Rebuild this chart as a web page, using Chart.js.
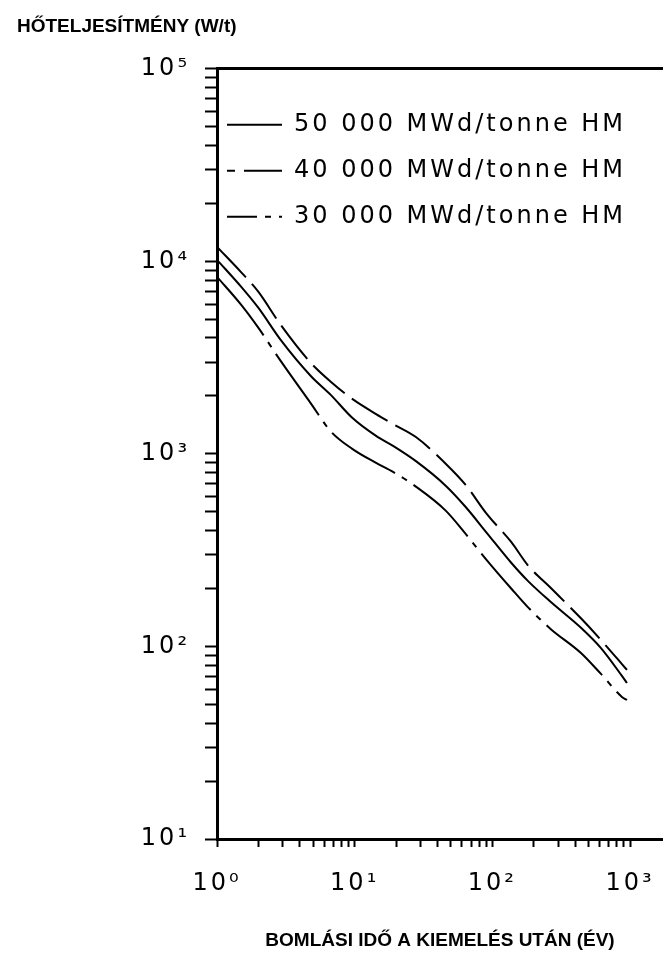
<!DOCTYPE html>
<html>
<head>
<meta charset="utf-8">
<title>Hőteljesítmény</title>
<script src="https://cdn.jsdelivr.net/npm/chart.js@4.4.1/dist/chart.umd.min.js"></script>
<style>
  html, body { margin: 0; padding: 0; background: #fff; }
  #wrap { width: 663px; height: 954px; }
</style>
</head>
<body>
<div id="wrap"><canvas id="myChart"></canvas></div>
<script>
// bomlási idő (év)
const years = [1, 1.5, 2, 2.9, 4.8, 6.7, 9.6, 14.3, 19, 28, 46, 64, 91, 137, 181, 266, 440, 615, 873, 950];
// hőteljesítmény (W/t)
const heat50 = [10180, 7370, 5730, 3910, 2540, 2025, 1540, 1240, 1100, 914, 682, 530, 389, 272, 219, 170, 125, 98, 70.3, 64.6];
const heat40 = [11890, 8770, 6940, 4680, 2970, 2370, 1930, 1610, 1430, 1220, 887, 690, 488, 349, 264, 201, 140, 108, 81, 75.5];
const heat30 = [8310, 5940, 4510, 3040, 1830, 1310, 1062, 898, 806, 674, 506, 384, 281, 200, 160, 123, 92.5, 72, 54.7, 52.7];
const seriesLabels = ['50 000 MWd/tonne HM', '40 000 MWd/tonne HM', '30 000 MWd/tonne HM'];

const xPowers = [1, 10, 100, 1000];
const xTickLabels = ['10⁰', '10¹', '10²', '10³'];
const yPowers = [10, 100, 1000, 10000, 100000];
const yTickLabels = ['10¹', '10²', '10³', '10⁴', '10⁵'];

const yTitle = 'HŐTELJESÍTMÉNY (W/t)';
const xTitle = 'BOMLÁSI IDŐ A KIEMELÉS UTÁN (ÉV)';

function powerLabel(value, powers, labels) {
  const i = powers.findIndex(p => Math.abs(value / p - 1) < 1e-9);
  return i >= 0 ? labels[i] : '';
}

// only 1..9 x 10^n get a tick mark
function markColor(ctx) {
  if (!ctx.tick) return '#000';
  const v = ctx.tick.value;
  const m = v / Math.pow(10, Math.floor(Math.log10(v) + 1e-9));
  return Math.abs(m - Math.round(m)) < 1e-6 ? '#000' : 'rgba(0,0,0,0)';
}

function toPoints(ys) {
  return years.map((t, i) => ({ x: t, y: ys[i] }));
}

// legend inside the frame + wider letter spacing for legend and tick labels
const tweaks = {
  id: 'tweaks',
  afterLayout(chart) {
    if (chart.legend) {
      chart.legend.top = chart.chartArea.top;
      chart.legend.left = chart.chartArea.left;
    }
    const targets = [[chart.legend, 'draw'], [chart.scales.x, 'drawLabels'], [chart.scales.y, 'drawLabels']];
    targets.forEach(([el, key]) => {
      if (!el || el[key]._spaced) return;
      const orig = el[key];
      const wrapped = function (...args) {
        this.ctx.save();
        this.ctx.letterSpacing = '3px';
        orig.apply(this, args);
        this.ctx.restore();
      };
      wrapped._spaced = true;
      el[key] = wrapped;
    });
  }
};

const font = 'DejaVu Sans, sans-serif';
const boldFont = { family: 'Liberation Sans, Arial, sans-serif', size: 19, weight: 'bold' };

const data = {
  datasets: [
    { label: seriesLabels[0], data: toPoints(heat50), borderDash: [], legendOffset: 0 },
    { label: seriesLabels[1], data: toPoints(heat40), borderDash: [42, 9], legendOffset: 34 },
    { label: seriesLabels[2], data: toPoints(heat30), borderDash: [75, 8, 6, 8], legendOffset: 45 }
  ].map(ds => Object.assign(ds, {
    borderColor: '#000',
    borderWidth: 2,
    pointRadius: 0,
    pointStyle: 'line',
    fill: false,
    cubicInterpolationMode: 'monotone'
  }))
};

const config = {
  type: 'line',
  data,
  plugins: [tweaks],
  options: {
    responsive: true,
    maintainAspectRatio: false,
    animation: false,
    devicePixelRatio: 1,
    layout: { padding: { left: 17, right: 0, top: 0, bottom: 0 } },
    plugins: {
      tooltip: { enabled: false },
      title: {
        display: true,
        text: yTitle,
        align: 'start',
        color: '#000',
        font: boldFont,
        padding: { top: 15, bottom: 0 }
      },
      legend: {
        position: 'chartArea',
        align: 'start',
        title: { display: true, text: ' ', font: { size: 10, lineHeight: 1 }, padding: { top: 24, bottom: 0 } },
        labels: {
          usePointStyle: true,
          pointStyleWidth: 55,
          padding: 10,
          color: '#000',
          font: { family: font, size: 24, lineHeight: 1.5 },
          generateLabels(chart) {
            const items = Chart.defaults.plugins.legend.labels.generateLabels(chart);
            items.forEach(it => {
              const ds = chart.data.datasets[it.datasetIndex];
              it.lineDash = ds.borderDash;
              it.lineDashOffset = ds.legendOffset;
              it.lineWidth = 2;
              it.strokeStyle = '#000';
              it.text = [it.text];
            });
            return items;
          }
        }
      }
    },
    scales: {
      x: {
        type: 'logarithmic',
        position: 'bottom',
        min: 1,
        max: 1735,
        afterFit(scale) {
          scale.height = 115;
          scale.paddingRight = 0;
        },
        border: { display: true, color: '#000', width: 3 },
        grid: { drawOnChartArea: false, drawTicks: true, tickLength: 8, tickWidth: 2, tickColor: markColor },
        ticks: {
          autoSkip: false,
          maxRotation: 0,
          padding: 22,
          color: '#000',
          font: { family: font, size: 24 },
          callback: v => powerLabel(v, xPowers, xTickLabels)
        },
        title: { display: true, text: xTitle, color: '#000', font: boldFont, padding: { top: 0, bottom: 2 } }
      },
      x2: {
        type: 'logarithmic',
        axis: 'x',
        position: 'top',
        min: 1,
        max: 1735,
        afterFit(scale) {
          scale.height = 31;
          scale.paddingRight = 0;
        },
        border: { display: true, color: '#000', width: 3 },
        grid: { display: false },
        ticks: { display: false }
      },
      y: {
        type: 'logarithmic',
        position: 'left',
        min: 10,
        max: 100000,
        afterFit(scale) { scale.width = 200; },
        border: { display: true, color: '#000', width: 3 },
        grid: { drawOnChartArea: false, drawTicks: true, tickLength: 12, tickWidth: 2, tickColor: markColor },
        ticks: {
          autoSkip: false,
          padding: 15,
          color: '#000',
          font: { family: font, size: 24 },
          callback: v => powerLabel(v, yPowers, yTickLabels)
        }
      }
    }
  }
};

new Chart(document.getElementById('myChart'), config);
</script>
</body>
</html>
